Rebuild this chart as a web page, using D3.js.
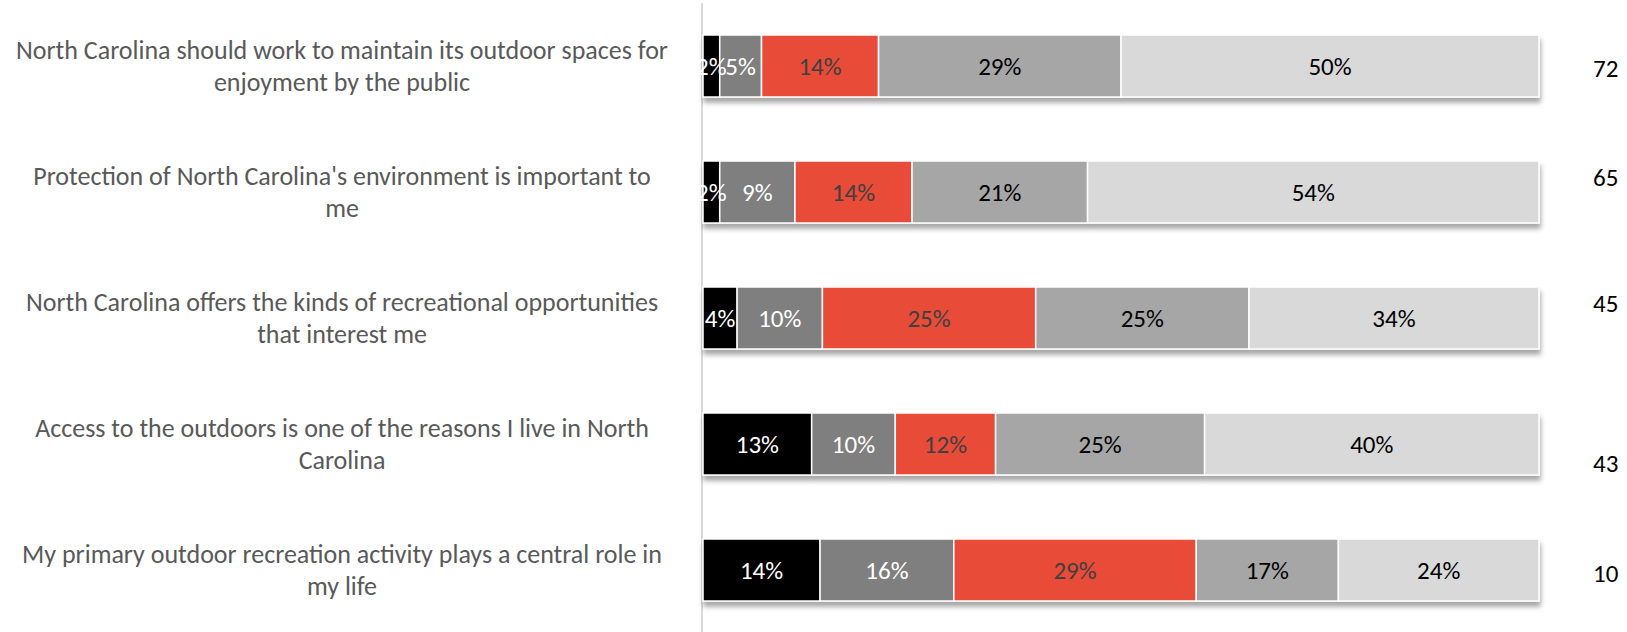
<!DOCTYPE html>
<html>
<head>
<meta charset="utf-8">
<script src="https://cdn.jsdelivr.net/npm/d3@7"></script>
<style>
  html, body { margin: 0; padding: 0; background: #fff; }
  svg { display: block; font-family: Carlito, Lato, "Noto Sans", sans-serif; }
</style>
</head>
<body>
<svg id="chart" width="1627" height="632"></svg>
<script>
// Survey statements (top to bottom); "\n" marks the label line break
const categories = [
  "North Carolina should work to maintain its outdoor spaces for\nenjoyment by the public",
  "Protection of North Carolina's environment is important to\nme",
  "North Carolina offers the kinds of recreational opportunities\nthat interest me",
  "Access to the outdoors is one of the reasons I live in North\nCarolina",
  "My primary outdoor recreation activity plays a central role in\nmy life"
];

// Response shares (%) for the five agreement levels, one value per statement
const level1 = [2, 2, 4, 13, 14];
const level2 = [5, 9, 10, 10, 16];
const level3 = [14, 14, 25, 12, 29];
const level4 = [29, 21, 25, 25, 17];
const level5 = [50, 54, 34, 40, 24];

// Figures printed at the right of each row
const sideValues = ["72", "65", "45", "43", "10"];

const seriesKeys = ["level1", "level2", "level3", "level4", "level5"];
const seriesFill = ["#000000", "#7f7f7f", "#e84b37", "#a6a6a6", "#d9d9d9"];
const seriesText = ["#ffffff", "#ffffff", "#404040", "#000000", "#000000"];

const rows = categories.map((c, i) => ({
  category: c,
  level1: level1[i], level2: level2[i], level3: level3[i],
  level4: level4[i], level5: level5[i]
}));

const svg = d3.select("#chart");
const W = 1627, H = 632;

const x = d3.scaleLinear().domain([0, 1]).range([703, 1539]);
const y = d3.scaleBand()
  .domain(categories)
  .range([3, 633])
  .paddingInner(64 / 126)
  .paddingOuter(32 / 126);

const stack = d3.stack().keys(seriesKeys).offset(d3.stackOffsetExpand);
const stacked = stack(rows);

// Soft shadow under each bar
const defs = svg.append("defs");
const f = defs.append("filter").attr("id", "barShadow")
  .attr("x", "-5%").attr("y", "-20%").attr("width", "110%").attr("height", "160%");
f.append("feDropShadow")
  .attr("dx", 1).attr("dy", 5).attr("stdDeviation", 2.5)
  .attr("flood-color", "#000").attr("flood-opacity", 0.35);

// Vertical category axis line
svg.append("line")
  .attr("x1", 702).attr("x2", 702)
  .attr("y1", 3).attr("y2", H)
  .attr("stroke", "#d9d9d9").attr("stroke-width", 2);

// Bars: one group per statement so the shadow is cast by the whole bar
const rowGroups = svg.append("g").selectAll("g.row")
  .data(categories)
  .join("g")
  .attr("class", "row")
  .attr("filter", "url(#barShadow)");

rowGroups.each(function(cat, ri) {
  const g = d3.select(this);
  stacked.forEach((layer, si) => {
    const d = layer[ri];
    g.append("rect")
      .attr("x", x(d[0]))
      .attr("y", y(cat))
      .attr("width", x(d[1]) - x(d[0]))
      .attr("height", y.bandwidth())
      .attr("fill", seriesFill[si])
      .attr("stroke", "#ffffff")
      .attr("stroke-width", 1.5);
  });
});

// Segment value labels
const labelLayer = svg.append("g").attr("font-size", 25);
stacked.forEach((layer, si) => {
  labelLayer.selectAll(null)
    .data(layer)
    .join("text")
    .attr("x", d => (x(d[0]) + x(d[1])) / 2)
    .attr("y", (d, i) => y(categories[i]) + y.bandwidth() / 2)
    .attr("dy", "0.35em")
    .attr("text-anchor", "middle")
    .attr("fill", seriesText[si])
    .text(d => d.data[seriesKeys[si]] + "%");
});

// Statement labels, centred to the left of the axis
const labelCenter = 342, lineGap = 32;
const catLayer = svg.append("g").attr("font-size", 26).attr("fill", "#595959");
categories.forEach(cat => {
  const lines = cat.split("\n");
  const cy = y(cat) + y.bandwidth() / 2;
  const t = catLayer.append("text").attr("text-anchor", "middle");
  lines.forEach((ln, k) => {
    t.append("tspan")
      .attr("x", labelCenter)
      .attr("y", cy + (k - (lines.length - 1) / 2) * lineGap)
      .attr("dy", "0.35em")
      .text(ln);
  });
});

// Right-hand figures
const sideShift = [2, -15, -15, 19, 3];
svg.append("g").attr("font-size", 25).attr("fill", "#000")
  .selectAll("text")
  .data(sideValues)
  .join("text")
  .attr("x", 1593)
  .attr("y", (d, i) => y(categories[i]) + y.bandwidth() / 2 + sideShift[i])
  .attr("dy", "0.35em")
  .text(d => d);
</script>
</body>
</html>
